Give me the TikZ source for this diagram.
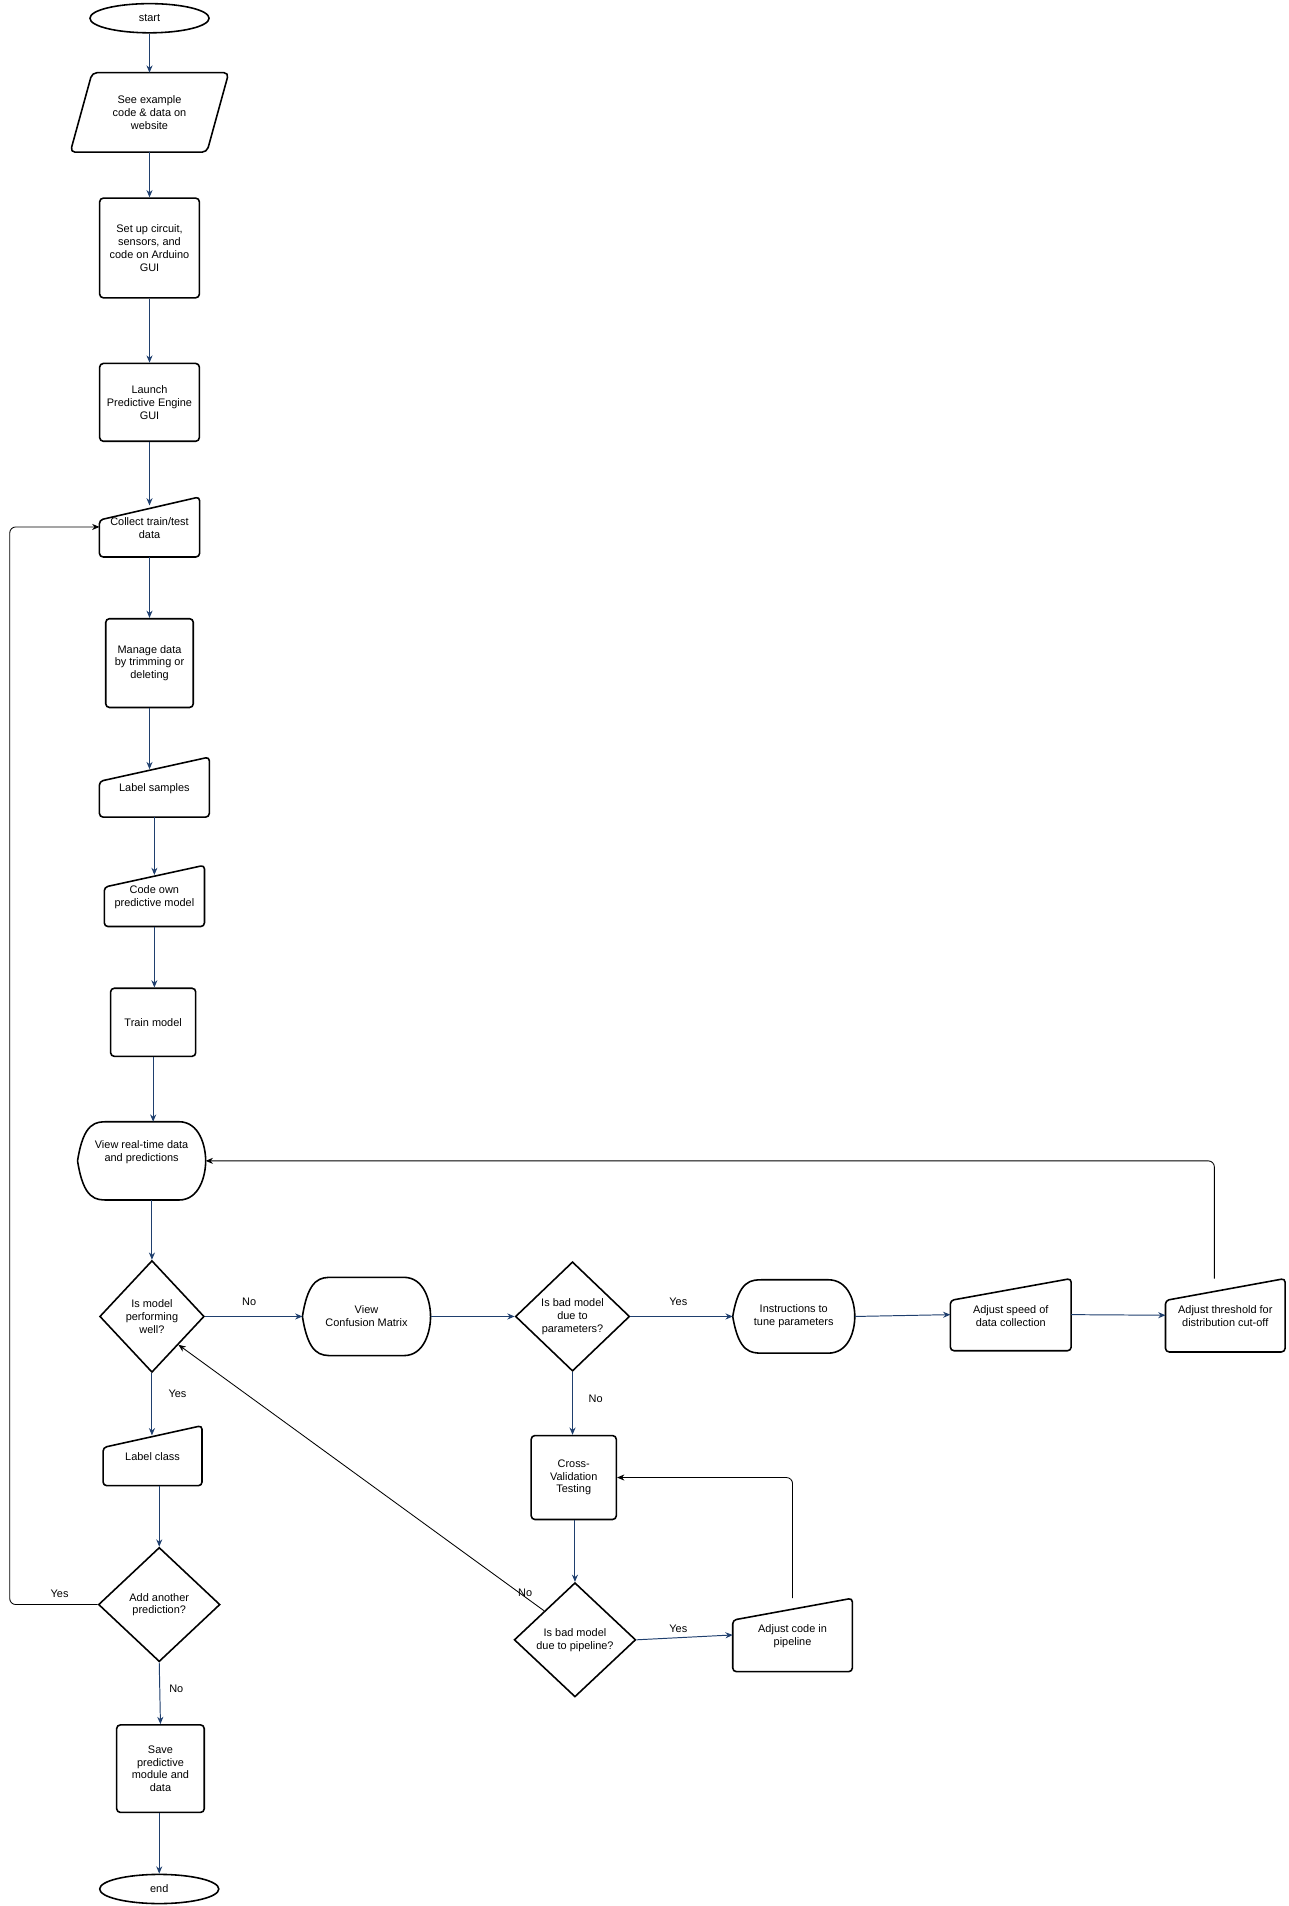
\documentclass[tikz,border=0pt]{standalone}
\usepackage{fontspec}
\setmainfont{Liberation Sans}
\usetikzlibrary{shapes.geometric,arrows.meta,calc}
\definecolor{flowblue}{HTML}{1F3F6E}
\tikzset{
  txt/.style={font=\fontsize{9}{10.5}\selectfont, align=center, inner sep=0pt},
  boxnode/.style={txt, rectangle, draw, rounded corners=3pt, line width=1.3pt},
  shapenode/.style={txt, rectangle, draw=none},
  outline/.style={line width=1.3pt, line join=round},
  dia/.style={txt, diamond, draw, line width=1.3pt, aspect=1},
  flow/.style={draw=flowblue, line width=0.8pt, -{Stealth[length=6pt,width=5pt]}},
  back/.style={draw=black, line width=0.7pt, rounded corners=5pt, -{Stealth[length=6pt,width=5pt]}},
  lab/.style={font=\fontsize{9}{10.5}\selectfont}
}
\newcommand{\manin}[2]{% node, drop of top-left
  \draw[outline, rounded corners=3pt] (#1.south west) -- ([yshift=-#2]#1.north west) -- (#1.north east) -- (#1.south east) -- cycle;}
\newcommand{\disp}[1]{%
  \draw[outline] (#1.west) .. controls ([xshift=5pt]#1.north west) and ([xshift=15pt]#1.north west) .. ([xshift=25pt]#1.north west)
    -- ([xshift=-22pt]#1.north east) .. controls ([xshift=-5pt]#1.north east) and ([yshift=12pt]#1.east) .. (#1.east)
    .. controls ([yshift=-12pt]#1.east) and ([xshift=-5pt]#1.south east) .. ([xshift=-22pt]#1.south east)
    -- ([xshift=25pt]#1.south west) .. controls ([xshift=15pt]#1.south west) and ([xshift=5pt]#1.south west) .. (#1.west);}
\begin{document}
\begin{tikzpicture}[x=1pt,y=-1pt]
\useasboundingbox (0,0) rectangle (1060,1568);
% nodes
\node[txt, ellipse, draw, line width=1.3pt, minimum width=98pt, minimum height=24pt] (start) at (123,15) {start};
\node[shapenode, minimum width=130pt, minimum height=65pt] (see) at (123,92.5) {See example\\code \& data on\\website};
\draw[outline, rounded corners=4pt] ([xshift=18pt]see.north west) -- (see.north east) -- ([xshift=-18pt]see.south east) -- (see.south west) -- cycle;
\node[boxnode, minimum width=82pt, minimum height=82pt] (setup) at (123,204) {Set up circuit,\\sensors, and\\code on Arduino\\GUI};
\node[boxnode, minimum width=82pt, minimum height=64pt] (launch) at (123,331) {Launch\\Predictive Engine\\GUI};
\node[shapenode, minimum width=82pt, minimum height=49pt] (collect) at (123,433.5) {\\[-2pt]Collect train/test\\data};
\manin{collect}{19pt}
\node[boxnode, minimum width=72pt, minimum height=73pt] (manage) at (123,545.5) {Manage data\\by trimming or\\deleting};
\node[shapenode, minimum width=90pt, minimum height=49pt] (label) at (127,647.5) {\\[-2pt]Label samples};
\manin{label}{20pt}
\node[shapenode, minimum width=82pt, minimum height=50pt] (code) at (127,737) {\\[-2pt]Code own\\predictive model};
\manin{code}{18pt}
\node[boxnode, minimum width=70pt, minimum height=56pt] (train) at (126,841) {Train model};
\node[shapenode, minimum width=105pt, minimum height=64pt] (view) at (116.5,955) {View real-time data\\and predictions\\[6pt]};
\disp{view}
\node[dia, minimum width=86pt, minimum height=92pt] (perf) at (125,1083) {Is model\\performing\\well?};
\node[shapenode, minimum width=105pt, minimum height=64pt] (cm) at (301.5,1083) {View\\Confusion Matrix};
\disp{cm}
\node[dia, minimum width=94pt, minimum height=90pt] (par) at (471,1083) {Is bad model\\due to\\parameters?};
\node[shapenode, minimum width=100pt, minimum height=60pt] (inst) at (653,1083) {Instructions to\\tune parameters};
\disp{inst}
\node[shapenode, minimum width=99pt, minimum height=59pt] (speed) at (831.5,1081.5) {\\[-2pt]Adjust speed of\\data collection};
\manin{speed}{18pt}
\node[shapenode, minimum width=98pt, minimum height=60pt] (thresh) at (1008,1082) {\\[-2pt]Adjust threshold for\\distribution cut-off};
\manin{thresh}{18pt}
\node[shapenode, minimum width=81pt, minimum height=49pt] (lclass) at (125.5,1197.5) {\\[-2pt]Label class};
\manin{lclass}{18pt}
\node[boxnode, minimum width=70pt, minimum height=69pt] (cv) at (472,1215.5) {Cross-\\Validation\\Testing};
\node[dia, minimum width=100pt, minimum height=94pt] (add) at (131,1320) {Add another\\prediction?};
\node[dia, minimum width=100pt, minimum height=94pt] (pipe) at (473,1349) {Is bad model\\due to pipeline?};
\node[shapenode, minimum width=98pt, minimum height=60pt] (adj) at (652,1345) {\\[-2pt]Adjust code in\\pipeline};
\manin{adj}{18pt}
\node[boxnode, minimum width=72pt, minimum height=72pt] (save) at (132,1455) {Save\\predictive\\module and\\data};
\node[txt, ellipse, draw, line width=1.3pt, minimum width=98pt, minimum height=24pt] (end) at (131,1554) {end};
% main flow
\draw[flow] (start.south) -- (start.south |- see.north);
\draw[flow] (see.south) -- (see.south |- setup.north);
\draw[flow] (setup.south) -- (launch.north);
\draw[flow] (launch.south) -- ([yshift=-7pt]collect.north);
\draw[flow] (collect.south) -- (manage.north);
\draw[flow] (manage.south) -- ([yshift=-10pt]label.north -| manage.south);
\draw[flow] (label.south -| code.north) -- ([yshift=-8pt]code.north);
\draw[flow] (code.south) -- (code.south |- train.north);
\draw[flow] (train.south) -- (train.south |- view.north);
\draw[flow] (view.south -| perf.north) -- (perf.north);
\draw[flow] (perf.south) -- ([yshift=-8pt]lclass.north -| perf.south);
\draw[flow] (lclass.south -| add.north) -- (add.north);
\draw[flow] (add.south) -- (save.north);
\draw[flow] (save.south -| end.north) -- (end.north);
\draw[flow] (perf.east) -- (cm.west);
\draw[flow] (cm.east) -- (par.west);
\draw[flow] (par.east) -- (inst.west);
\draw[flow] (inst.east) -- (speed.west);
\draw[flow] (speed.east) -- (thresh.west);
\draw[flow] (par.south) -- (par.south |- cv.north);
\draw[flow] (cv.south -| pipe.north) -- (pipe.north);
\draw[flow] (pipe.east) -- (adj.west);
% back loops
\coordinate (lx) at (8,0);
\draw[back] (add.west) -- (add.west -| lx) |- (collect.west);
\draw[back] ([xshift=-9pt]thresh.north) |- (view.east);
\draw[back] (adj.north) |- (cv.east);
\draw[back, rounded corners=0pt] (pipe.north west) -- (perf.south east);
% labels
\node[lab] at (205,1071) {No};
\node[lab] at (146,1147) {Yes};
\node[lab] at (558,1071) {Yes};
\node[lab] at (490,1151) {No};
\node[lab] at (49,1311) {Yes};
\node[lab] at (432,1310) {No};
\node[lab] at (558,1340) {Yes};
\node[lab] at (145,1389) {No};
\end{tikzpicture}
\end{document}
